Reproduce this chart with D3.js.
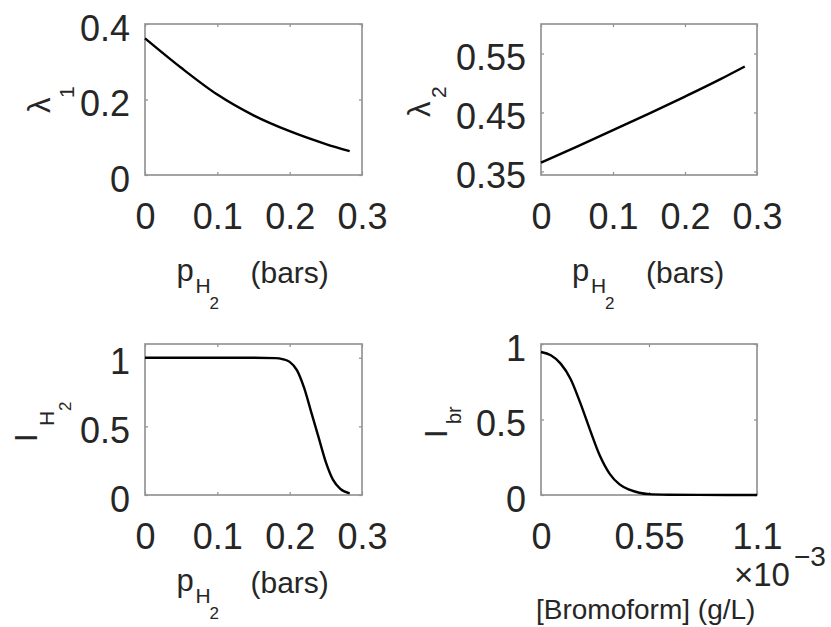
<!DOCTYPE html>
<html>
<head>
<meta charset="utf-8">
<script src="https://cdn.jsdelivr.net/npm/d3@7"></script>
<style>
  body { margin: 0; background: #fff; }
  svg { display: block; font-family: "Liberation Sans", Arial, Helvetica, sans-serif; }
  .tick text { fill: #262626; }
  .lbl { fill: #262626; }
</style>
</head>
<body>
<svg id="fig" width="831" height="627"></svg>
<script>
// data
var pH2 = [0, 0.05, 0.1, 0.15, 0.2, 0.25, 0.283];
var lambda1 = [0.362, 0.284, 0.213, 0.158, 0.116, 0.082, 0.063];
var lambda2 = [0.365, 0.392, 0.420, 0.448, 0.477, 0.507, 0.528];

var pH2Fine = [0, 0.05, 0.1, 0.15, 0.18, 0.19, 0.2, 0.21, 0.22, 0.23, 0.24, 0.25, 0.26, 0.27, 0.283];
var iH2 = [1, 1, 1, 1, 0.997, 0.99, 0.97, 0.91, 0.78, 0.6, 0.42, 0.24, 0.11, 0.045, 0.012];

var bromo = [0, 0.05, 0.1, 0.15, 0.2, 0.25, 0.3, 0.35, 0.4, 0.45, 0.5, 0.55, 0.65, 0.8, 1.1]; // x 1e-3 g/L
var iBr = [0.947, 0.925, 0.87, 0.77, 0.61, 0.43, 0.26, 0.14, 0.07, 0.035, 0.015, 0.006, 0.002, 0.0005, 0];

var pTicks = [0, 0.1, 0.2, 0.3];
var bromoTicks = [0, 0.55, 1.1];
var l1Ticks = [0, 0.2, 0.4];
var l2Ticks = [0.35, 0.45, 0.55];
var iTicks = [0, 0.5, 1];

var svg = d3.select("#fig");
var FS = 36;

function panel(c) {
	var x = d3.scaleLinear().domain(c.xd).range([c.x0, c.x1]);
	var y = d3.scaleLinear().domain(c.yd).range([c.y1, c.y0]);
	var g = svg.append("g");

	// inward ticks on all four sides, labels only bottom/left
	g.append("g")
		.attr("transform", "translate(0," + c.y1 + ")")
		.call(d3.axisBottom(x).tickValues(c.xt).tickSize(-3).tickPadding(28).tickFormat(d3.format("")));
	g.append("g")
		.attr("transform", "translate(" + c.x0 + ",0)")
		.call(d3.axisLeft(y).tickValues(c.yt).tickSize(-3).tickPadding(15).tickFormat(d3.format("")))
		.selectAll(".tick text").attr("dy", "0.45em");
	g.append("g")
		.attr("transform", "translate(0," + c.y0 + ")")
		.call(d3.axisTop(x).tickValues(c.xt).tickSize(-3).tickFormat(""));
	g.append("g")
		.attr("transform", "translate(" + c.x1 + ",0)")
		.call(d3.axisRight(y).tickValues(c.yt).tickSize(-3).tickFormat(""));

	g.selectAll(".domain").remove();
	g.selectAll(".tick line").attr("stroke", "#8c8c8c").attr("stroke-width", 1.2);
	g.selectAll(".tick text").attr("font-size", FS).attr("font-family", null);

	g.append("rect")
		.attr("x", c.x0).attr("y", c.y0)
		.attr("width", c.x1 - c.x0).attr("height", c.y1 - c.y0)
		.attr("fill", "none").attr("stroke", "#959595").attr("stroke-width", 1.7);

	var line = d3.line()
		.x(function(d) { return x(d[0]); })
		.y(function(d) { return y(d[1]); })
		.curve(d3.curveMonotoneX);
	g.append("path")
		.datum(d3.zip(c.xs, c.ys))
		.attr("d", line)
		.attr("fill", "none")
		.attr("stroke", "#000")
		.attr("stroke-width", 2.4)
		.attr("stroke-linejoin", "round");
	return g;
}

// plain text pieces, positioned at their baseline start
function txt(parts) {
	parts.forEach(function(p) {
		var t = svg.append("text").attr("class", "lbl")
			.attr("font-size", p.s)
			.text(p.t);
		if (p.r) t.attr("transform", "translate(" + p.x + "," + p.y + ") rotate(-90)");
		else t.attr("x", p.x).attr("y", p.y);
	});
}

function pLabel(cx, by) {
	txt([
		{t: "p", s: 31, x: cx - 77, y: by},
		{t: "H", s: 21, x: cx - 58, y: by + 12},
		{t: "2", s: 17, x: cx - 44, y: by + 28},
		{t: "(bars)", s: 30, x: cx - 3, y: by + 2}
	]);
}

panel({x0: 145, x1: 362, y0: 24, y1: 175, xd: [0, 0.3], yd: [0, 0.4], xt: pTicks, yt: l1Ticks, xs: pH2, ys: lambda1});
panel({x0: 541, x1: 757, y0: 24, y1: 175, xd: [0, 0.3], yd: [0.344, 0.6], xt: pTicks, yt: l2Ticks, xs: pH2, ys: lambda2});
panel({x0: 145, x1: 362, y0: 344, y1: 495, xd: [0, 0.3], yd: [0, 1.1], xt: pTicks, yt: iTicks, xs: pH2Fine, ys: iH2});
panel({x0: 541, x1: 757, y0: 344, y1: 495, xd: [0, 1.1], yd: [0, 1], xt: bromoTicks, yt: iTicks, xs: bromo, ys: iBr});

pLabel(253.5, 281);
pLabel(649, 281);
pLabel(253.5, 591);

// y labels
txt([
	{t: "\u03bb", s: 31, x: 50, y: 113, r: true},
	{t: "1", s: 21, x: 74, y: 98, r: true},
	{t: "\u03bb", s: 31, x: 430, y: 117, r: true},
	{t: "2", s: 21, x: 446, y: 98, r: true},
	{t: "I", s: 31, x: 37, y: 442, r: true},
	{t: "H", s: 21, x: 54, y: 426, r: true},
	{t: "2", s: 17, x: 71, y: 411, r: true},
	{t: "I", s: 31, x: 447, y: 438, r: true},
	{t: "br", s: 20, x: 461, y: 424, r: true}
]);

// bromoform axis label and exponent
txt([
	{t: "\u00d710", s: 33, x: 734, y: 586},
	{t: "\u22123", s: 28, x: 794, y: 566},
	{t: "[Bromoform] (g/L)", s: 28, x: 536, y: 619}
]);
</script>
</body>
</html>
